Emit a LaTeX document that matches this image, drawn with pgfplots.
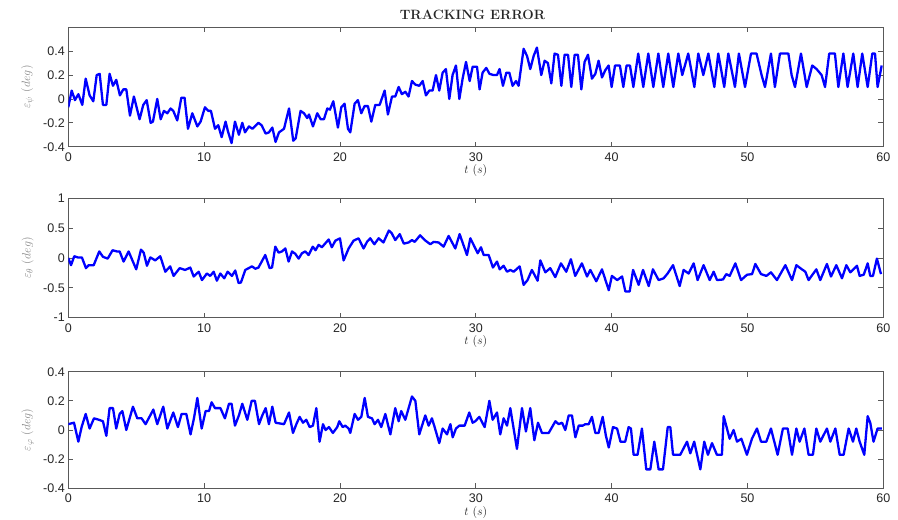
\documentclass[border=0pt]{standalone}
\usepackage{fontspec}
\usepackage{pgfplots}
\pgfplotsset{compat=1.18}
\newfontfamily\tickfont{Liberation Sans}
\definecolor{mblue}{RGB}{0,0,255}
\definecolor{labgray}{RGB}{135,135,135}
\pgfplotsset{
  mystyle/.style={
    scale only axis, width=815pt, height=119.4pt,
    xmin=0, xmax=60, xtick={0,10,20,30,40,50,60},
    xticklabels={0,10,20,30,40,50,60},
    axis line style={black!65, line width=0.8pt},
    tick style={black!65, line width=0.8pt},
    major tick length=5pt,
    tick align=inside,
    no markers,
    ticklabel style={font=\tickfont\fontsize{12.5}{13}\selectfont, text=black!85},
    xticklabel style={anchor=base, yshift=-14.5pt},
    xlabel={$t\ (s)$},
    xlabel style={at={(axis description cs:0.5,0)}, anchor=center, yshift=-24pt, font=\fontsize{12}{13}\selectfont, text=black!85},
    ylabel style={at={(axis description cs:-0.05,0.5)}, anchor=center, text=labgray, font=\fontsize{12.5}{13}\selectfont},
  },
  myline/.style={mblue, line width=2.3pt, line join=round, mark=none},
}
\begin{document}
\begin{tikzpicture}
\path[use as bounding box] (0,0) rectangle (898pt,520pt);
% ---- top: psi
\begin{axis}[mystyle, at={(68.3pt,373.3pt)}, anchor=south west,
  ymin=-0.4, ymax=0.6, ytick={-0.4,-0.2,0,0.2,0.4},
  yticklabels={-0.4,-0.2,0,0.2,0.4},
  ylabel={$\varepsilon_{\psi}\ (deg)$},
  title={\bfseries TRACKING ERROR},
  title style={at={(axis description cs:0.496,1)}, anchor=base, yshift=1.3pt, font=\fontsize{13.5}{14}\selectfont, text=black!85}]
\addplot[myline] coordinates {
(0,-0.07)(0.25,0.07)(0.49,-0.01)(0.74,0.04)(1.03,-0.05)(1.28,0.17)(1.57,0.03)(1.84,-0.02)(2.09,0.20)(2.31,0.21)(2.55,-0.05)(2.80,-0.05)(3.04,0.21)(3.29,0.11)(3.53,0.16)(3.80,0.03)(4.05,0.08)(4.27,0.08)(4.54,-0.14)(4.83,0.02)(5.25,-0.17)(5.52,-0.05)(5.77,-0.01)(6.06,-0.20)(6.23,-0.19)(6.55,0.00)(6.80,-0.17)(7.04,-0.10)(7.29,-0.12)(7.53,-0.08)(7.73,-0.10)(8.02,-0.18)(8.32,0.01)(8.56,0.01)(8.81,-0.25)(9.13,-0.12)(9.50,-0.23)(9.74,-0.19)(10.06,-0.07)(10.31,-0.10)(10.50,-0.10)(10.80,-0.25)(11.04,-0.22)(11.29,-0.32)(11.58,-0.19)(11.75,-0.27)(12.02,-0.37)(12.27,-0.19)(12.56,-0.30)(12.81,-0.20)(13.01,-0.28)(13.30,-0.23)(13.55,-0.25)(13.99,-0.20)(14.23,-0.22)(14.53,-0.29)(14.77,-0.28)(15.02,-0.24)(15.26,-0.36)(15.51,-0.28)(15.88,-0.25)(16.25,-0.08)(16.56,-0.35)(16.74,-0.33)(17.10,-0.10)(17.35,-0.12)(17.59,-0.16)(17.72,-0.13)(18.01,-0.23)(18.33,-0.12)(18.58,-0.17)(18.82,-0.17)(19.07,-0.08)(19.26,-0.09)(19.51,-0.02)(19.85,-0.24)
(20.10,-0.07)(20.34,-0.04)(20.59,-0.25)(20.76,-0.28)(21.08,-0.04)(21.32,-0.01)(21.57,-0.12)(21.81,-0.06)(22.06,-0.06)(22.31,-0.19)(22.60,-0.05)(22.92,-0.05)(23.29,0.07)(23.53,-0.13)(23.83,0.02)(24.07,0.02)(24.32,0.10)(24.56,0.04)(24.81,0.06)(25.05,0.02)(25.30,0.15)(25.55,0.12)(25.84,0.11)(26.09,0.15)(26.33,0.03)(26.58,0.07)(26.82,0.07)(27.07,0.20)(27.31,0.07)(27.56,0.22)(27.80,0.25)(28.05,0.00)(28.29,0.20)(28.54,0.28)(28.79,0.00)(29.03,0.17)(29.28,0.31)(29.55,0.15)(29.77,0.27)(30.09,0.27)(30.28,0.08)(30.50,0.22)(30.77,0.26)(31.01,0.21)(31.31,0.20)(31.56,0.20)(31.75,0.25)(32.00,0.11)(32.25,0.22)(32.47,0.22)(32.71,0.11)(32.96,0.15)(33.15,0.11)(33.52,0.42)(33.77,0.36)(34.01,0.25)(34.26,0.36)(34.50,0.43)(34.82,0.20)(35.07,0.32)(35.31,0.30)(35.56,0.13)(35.80,0.38)(36.05,0.37)(36.30,0.11)(36.54,0.37)(36.79,0.37)(37.03,0.10)(37.28,0.37)(37.52,0.37)(37.77,0.08)(38.01,0.31)(38.26,0.37)(38.55,0.17)(38.80,0.21)(39.04,0.32)(39.29,0.18)(39.53,0.24)(39.78,0.28)
(40.00,0.10)(40.25,0.28)(40.61,0.28)(40.86,0.10)(41.10,0.28)(41.35,0.28)(41.60,0.10)(41.96,0.38)(42.33,0.10)(42.70,0.38)(43.07,0.10)(43.44,0.38)(43.80,0.10)(44.17,0.38)(44.54,0.10)(44.91,0.38)(45.20,0.20)(45.64,0.38)(46.09,0.10)(46.38,0.38)(46.75,0.20)(47.12,0.38)(47.56,0.10)(47.85,0.38)(48.29,0.10)(48.59,0.38)(49.08,0.10)(49.37,0.38)(49.82,0.10)(50.26,0.38)(50.67,0.38)(51.04,0.20)(51.29,0.10)(51.73,0.38)(52.02,0.10)(52.39,0.38)(53.01,0.38)(53.25,0.20)(53.50,0.10)(53.94,0.38)(54.36,0.10)(54.77,0.28)(55.09,0.25)(55.46,0.20)(55.71,0.10)(56.02,0.38)(56.44,0.38)(56.69,0.10)(57.06,0.38)(57.37,0.10)(57.79,0.38)(58.11,0.10)(58.45,0.38)(58.85,0.10)(59.19,0.38)(59.39,0.38)(59.58,0.10)(59.88,0.28)
};
\end{axis}
% ---- middle: theta
\begin{axis}[mystyle, at={(68.3pt,202.3pt)}, anchor=south west,
  ymin=-1, ymax=1, ytick={-1,-0.5,0,0.5,1},
  yticklabels={-1,-0.5,0,0.5,1},
  ylabel={$\varepsilon_{\theta}\ (deg)$}]
\addplot[myline] coordinates {
(0,0.0)(0.2,-0.12)(0.44,0.03)(0.69,0.01)(1.0,0.01)(1.30,-0.17)(1.5,-0.12)(1.87,-0.12)(2.28,0.11)(2.55,0.02)(2.9,-0.01)(3.26,0.13)(3.58,0.11)(3.78,0.11)(4.07,-0.06)(4.44,0.11)(5.0,-0.19)(5.35,0.14)(5.55,0.09)(5.79,-0.13)(6.04,0.01)(6.4,-0.04)(6.77,0.03)(7.14,-0.23)(7.5,-0.14)(7.75,-0.30)(8.2,-0.17)(8.6,-0.2)(8.98,-0.16)(9.23,-0.31)(9.6,-0.23)(9.84,-0.37)(10.2,-0.26)(10.45,-0.30)(10.7,-0.23)(10.94,-0.38)(11.19,-0.26)(11.48,-0.34)(11.73,-0.23)(12.05,-0.30)(12.29,-0.21)(12.54,-0.42)(12.71,-0.41)(13.03,-0.20)(13.28,-0.17)(13.52,-0.14)(13.77,-0.18)(14.0,-0.16)(14.5,0.05)(14.82,-0.17)(15.0,-0.16)(15.24,0.19)(15.48,0.09)(15.73,0.11)(15.98,0.16)(16.22,-0.06)(16.47,0.11)(16.71,0.07)(16.96,-0.01)(17.2,0.08)(17.45,0.11)(17.69,0.05)(18.0,0.19)(18.2,0.13)(18.43,0.22)(18.67,0.18)(18.9,0.24)(19.17,0.31)(19.4,0.18)(19.66,0.29)(20.0,0.33)(20.27,-0.04)(20.64,0.16)(21.0,0.29)(21.37,0.33)(21.74,0.16)(21.99,0.27)(22.23,0.33)(22.53,0.23)(22.85,0.33)(23.2,0.26)(23.6,0.46)(23.8,0.42)(24.07,0.30)(24.4,0.40)(24.7,0.24)(25.05,0.26)(25.3,0.30)(25.5,0.27)(25.9,0.38)(26.3,0.29)(26.65,0.23)(26.9,0.27)(27.26,0.26)(27.63,0.19)(28.0,0.37)(28.49,0.16)(28.81,0.40)(29.35,0.05)(29.6,0.33)(30.14,0.08)(30.38,0.18)(30.58,0.05)(30.95,0.05)(31.26,-0.16)(31.56,-0.06)(31.76,-0.19)(32.05,-0.13)(32.3,-0.23)(32.54,-0.20)(32.79,-0.23)(33.23,-0.14)(33.52,-0.45)(33.81,-0.37)(34.13,-0.20)(34.55,-0.38)(34.75,-0.04)(35.12,-0.24)(35.48,-0.17)(35.85,-0.32)(36.27,-0.09)(36.66,-0.23)(37.0,-0.02)(37.32,-0.30)(37.81,-0.09)(38.19,-0.31)(38.43,-0.2)(38.87,-0.39)(39.29,-0.19)(39.79,-0.54)(40.02,-0.30)(40.41,-0.37)(40.77,-0.31)(41.01,-0.56)(41.33,-0.56)(41.58,-0.20)(41.99,-0.45)(42.31,-0.20)(42.73,-0.47)(43.04,-0.19)(43.46,-0.37)(43.83,-0.34)(44.12,-0.26)(44.52,-0.12)(45.01,-0.47)(45.3,-0.2)(45.67,-0.26)(46.04,-0.09)(46.33,-0.37)(46.77,-0.12)(47.22,-0.37)(47.51,-0.23)(47.76,-0.37)(48.2,-0.36)(48.44,-0.27)(48.69,-0.30)(49.11,-0.09)(49.53,-0.37)(49.97,-0.28)(50.34,-0.27)(50.58,-0.1)(51.0,-0.27)(51.39,-0.30)(51.73,-0.24)(52.17,-0.37)(52.79,-0.12)(53.28,-0.37)(53.6,-0.12)(54.01,-0.19)(54.26,-0.23)(54.5,-0.37)(55.07,-0.19)(55.36,-0.37)(55.85,-0.1)(56.15,-0.31)(56.54,-0.12)(56.96,-0.34)(57.28,-0.12)(57.57,-0.24)(58.06,-0.13)(58.26,-0.30)(58.56,-0.28)(58.85,-0.09)(59.04,-0.30)(59.24,-0.30)(59.53,-0.01)(59.83,-0.27)
};
\end{axis}
% ---- bottom: phi
\begin{axis}[mystyle, at={(68.3pt,31.7pt)}, anchor=south west, height=116.6pt,
  ymin=-0.4, ymax=0.4, ytick={-0.4,-0.2,0,0.2,0.4},
  yticklabels={-0.4,-0.2,0,0.2,0.4},
  ylabel={$\varepsilon_{\varphi}\ (deg)$}]
\addplot[myline] coordinates {
(0,0.04)(0.42,0.05)(0.74,-0.08)(0.98,0.02)(1.28,0.11)(1.57,0.01)(1.89,0.08)(2.26,0.07)(2.55,0.06)(2.80,-0.04)(3.04,0.15)(3.29,0.15)(3.53,0.01)(3.78,0.11)(3.98,0.13)(4.27,0.00)(4.76,0.16)(5.08,0.08)(5.4,0.08)(5.69,0.04)(6.26,0.14)(6.55,0.04)(6.99,0.16)(7.29,0.01)(7.73,0.12)(8.07,0.02)(8.34,0.11)(8.69,0.11)(9.0,-0.03)(9.25,0.08)(9.5,0.22)(9.82,0.01)(10.11,0.13)(10.36,0.13)(10.55,0.19)(10.8,0.15)(11.2,0.15)(11.53,0.08)(11.83,0.18)(12.02,0.18)(12.27,0.03)(12.56,0.10)(12.81,0.18)(13.18,0.07)(13.5,0.20)(13.74,0.20)(14.04,0.04)(14.28,0.10)(14.53,0.15)(14.77,0.04)(15.02,0.16)(15.26,0.05)(15.88,0.04)(16.25,0.12)(16.54,-0.02)(16.79,0.04)(17.03,0.09)(17.28,0.05)(17.52,0.07)(17.77,0.02)(18.01,0.03)(18.26,0.15)(18.5,-0.08)(18.75,0.04)(18.94,0.00)(19.19,0.02)(19.48,-0.02)(19.8,0.02)
(19.95,0.06)(20.2,0.02)(20.39,0.03)(20.64,0.01)(20.76,-0.02)(21.08,0.11)(21.33,0.07)(21.57,0.09)(21.82,0.22)(22.06,0.09)(22.36,0.08)(22.55,0.04)(22.8,0.07)(23.04,0.02)(23.34,0.11)(23.71,-0.03)(24.07,0.15)(24.32,0.06)(24.51,0.13)(24.81,0.07)(25.3,0.23)(25.55,0.20)(25.84,-0.03)(26.28,0.10)(26.53,0.03)(26.77,0.08)(26.97,0.02)(27.31,-0.09)(27.56,0.01)(27.88,-0.03)(28.13,0.04)(28.3,-0.05)(28.54,0.01)(28.79,0.03)(29.18,0.03)(29.52,0.12)(29.77,0.05)(29.96,0.06)(30.26,0.09)(30.65,0.02)(31.0,0.20)(31.24,0.07)(31.56,0.12)(31.8,-0.03)(32.05,0.08)(32.3,0.03)(32.54,0.15)(33.03,-0.13)(33.4,0.15)(33.69,-0.01)(34.01,0.15)(34.31,-0.07)(34.58,0.05)(34.87,-0.02)(35.37,-0.02)(35.86,0.06)(36.1,0.04)(36.35,0.05)(36.59,0.00)(36.84,0.10)(37.08,0.10)(37.33,-0.05)(37.58,0.03)(37.87,0.03)(38.07,0.04)(38.31,0.04)(38.55,0.09)(38.8,-0.02)(39.04,-0.02)(39.34,0.09)(39.58,-0.04)(39.79,-0.12)
(40.1,0.02)(40.4,0.01)(40.65,-0.08)(41.0,-0.08)(41.25,0.02)(41.42,0.01)(41.62,-0.17)(41.91,-0.17)(42.23,0.01)(42.55,-0.27)(42.85,-0.27)(43.14,-0.08)(43.46,-0.27)(43.78,-0.27)(44.13,0.02)(44.32,0.02)(44.52,-0.17)(45.05,-0.17)(45.55,-0.08)(45.79,-0.16)(46.08,-0.08)(46.53,-0.27)(46.82,-0.08)(47.09,-0.17)(47.39,-0.09)(47.75,-0.17)(48.12,-0.17)(48.25,0.095)(48.69,-0.06)(48.98,0.00)(49.23,-0.08)(49.55,-0.06)(49.96,-0.17)(50.33,-0.06)(50.7,0.01)(51.0,-0.08)(51.39,-0.08)(51.73,0.01)(52.22,-0.17)(52.61,0.01)(52.96,0.01)(53.28,-0.17)(53.6,0.01)(53.84,-0.08)(54.19,0.01)(54.5,-0.17)(54.82,-0.17)(55.07,0.01)(55.36,-0.08)(55.85,0.01)(56.1,-0.08)(56.47,0.01)(56.79,-0.17)(57.08,-0.17)(57.45,0.01)(57.77,-0.08)(58.01,0.01)(58.26,-0.08)(58.6,-0.17)(58.85,0.095)(59.04,0.05)(59.28,-0.08)(59.58,0.01)(59.9,0.01)
};
\end{axis}
\end{tikzpicture}
\end{document}
